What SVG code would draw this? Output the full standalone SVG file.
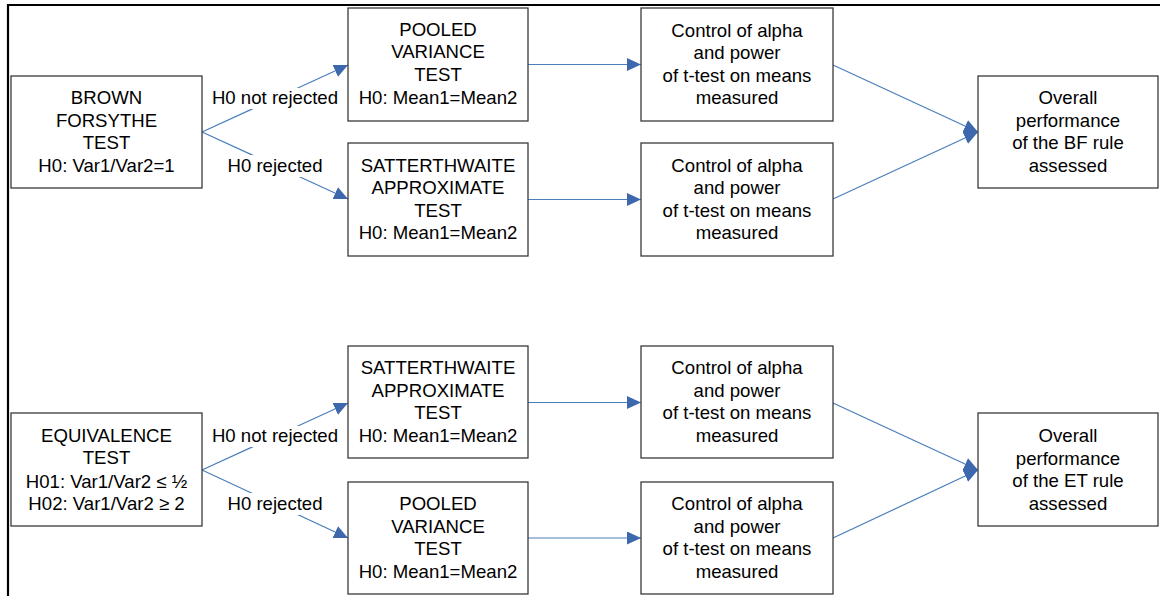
<svg xmlns="http://www.w3.org/2000/svg" width="1160" height="596" viewBox="0 0 1160 596">
<style>
text{font-family:"Liberation Sans",Arial,sans-serif;font-size:18.6px;fill:#000;text-anchor:middle}
.box{fill:#fff;stroke:#3a3a3a;stroke-width:1.3}
.con{fill:none;stroke:#4A7EBB;stroke-width:1.2}
.lbg{fill:#fff}
</style>
<defs>
<marker id="ah" markerUnits="userSpaceOnUse" markerWidth="15" markerHeight="14" refX="14" refY="6.5" orient="auto">
<path d="M0,0 L14,6.5 L0,13 z" fill="#3D68AD"/>
</marker>
</defs>
<rect width="1160" height="596" fill="#fff"/>
<path d="M8,596 V5 H1160" fill="none" stroke="#000" stroke-width="2.2"/>

<g id="connectors">
<line class="con" x1="202" y1="132" x2="348" y2="65" marker-end="url(#ah)"/>
<line class="con" x1="202" y1="132" x2="348" y2="199" marker-end="url(#ah)"/>
<line class="con" x1="528" y1="64.5" x2="641" y2="64.5" marker-end="url(#ah)"/>
<line class="con" x1="528" y1="199.5" x2="641" y2="199.5" marker-end="url(#ah)"/>
<line class="con" x1="833" y1="65" x2="978" y2="132" marker-end="url(#ah)"/>
<line class="con" x1="833" y1="199" x2="978" y2="132" marker-end="url(#ah)"/>
<line class="con" x1="202" y1="470" x2="348" y2="403" marker-end="url(#ah)"/>
<line class="con" x1="202" y1="470" x2="348" y2="538" marker-end="url(#ah)"/>
<line class="con" x1="528" y1="402.5" x2="641" y2="402.5" marker-end="url(#ah)"/>
<line class="con" x1="528" y1="538" x2="641" y2="538" marker-end="url(#ah)"/>
<line class="con" x1="833" y1="403" x2="978" y2="470" marker-end="url(#ah)"/>
<line class="con" x1="833" y1="538" x2="978" y2="470" marker-end="url(#ah)"/>
<g id="labels">
<rect class="lbg" x="209" y="88" width="132" height="21"/>
<text x="275" y="103.5">H0 not rejected</text>
<rect class="lbg" x="228" y="155" width="95" height="22"/>
<text x="275" y="171.5">H0 rejected</text>
<rect class="lbg" x="209" y="426" width="132" height="21"/>
<text x="275" y="442">H0 not rejected</text>
<rect class="lbg" x="228" y="493" width="95" height="22"/>
<text x="275" y="509.5">H0 rejected</text>
</g>
</g>

<g id="bf">
<rect class="box" x="11" y="76" width="191" height="112"/>
<text x="106.5" y="104">BROWN</text>
<text x="106.5" y="126.5">FORSYTHE</text>
<text x="106.5" y="149">TEST</text>
<text x="106.5" y="171.5">H0: Var1/Var2=1</text>
</g>
<g id="pooled1">
<rect class="box" x="348" y="8" width="180" height="113"/>
<text x="438" y="35.5">POOLED</text>
<text x="438" y="58">VARIANCE</text>
<text x="438" y="80.5">TEST</text>
<text x="438" y="103.5">H0: Mean1=Mean2</text>
</g>
<g id="satt1">
<rect class="box" x="348" y="143" width="180" height="113"/>
<text x="438" y="171.5">SATTERTHWAITE</text>
<text x="438" y="194">APPROXIMATE</text>
<text x="438" y="216.5">TEST</text>
<text x="438" y="239">H0: Mean1=Mean2</text>
</g>
<g id="ctrl1">
<rect class="box" x="641" y="8" width="192" height="113"/>
<text x="737" y="36.5">Control of alpha</text>
<text x="737" y="59">and power</text>
<text x="737" y="81.5">of t-test on means</text>
<text x="737" y="104">measured</text>
</g>
<g id="ctrl2">
<rect class="box" x="641" y="143" width="192" height="113"/>
<text x="737" y="171.5">Control of alpha</text>
<text x="737" y="194">and power</text>
<text x="737" y="216.5">of t-test on means</text>
<text x="737" y="239">measured</text>
</g>
<g id="overall1">
<rect class="box" x="978" y="76" width="180" height="112"/>
<text x="1068" y="104">Overall</text>
<text x="1068" y="126.5">performance</text>
<text x="1068" y="149">of the BF rule</text>
<text x="1068" y="171.5">assessed</text>
</g>

<g id="et">
<rect class="box" x="11" y="413" width="191" height="113"/>
<text x="106.5" y="442">EQUIVALENCE</text>
<text x="106.5" y="464">TEST</text>
<text x="106.5" y="487.5">H01: Var1/Var2 ≤ ½</text>
<text x="106.5" y="510">H02: Var1/Var2 ≥ 2</text>
</g>
<g id="satt2">
<rect class="box" x="348" y="346" width="180" height="112"/>
<text x="438" y="374">SATTERTHWAITE</text>
<text x="438" y="396.5">APPROXIMATE</text>
<text x="438" y="419">TEST</text>
<text x="438" y="441.5">H0: Mean1=Mean2</text>
</g>
<g id="pooled2">
<rect class="box" x="348" y="482" width="180" height="112"/>
<text x="438" y="510">POOLED</text>
<text x="438" y="532.5">VARIANCE</text>
<text x="438" y="555">TEST</text>
<text x="438" y="577.5">H0: Mean1=Mean2</text>
</g>
<g id="ctrl3">
<rect class="box" x="641" y="346" width="192" height="112"/>
<text x="737" y="374">Control of alpha</text>
<text x="737" y="396.5">and power</text>
<text x="737" y="419">of t-test on means</text>
<text x="737" y="441.5">measured</text>
</g>
<g id="ctrl4">
<rect class="box" x="641" y="482" width="192" height="112"/>
<text x="737" y="510">Control of alpha</text>
<text x="737" y="532.5">and power</text>
<text x="737" y="555">of t-test on means</text>
<text x="737" y="577.5">measured</text>
</g>
<g id="overall2">
<rect class="box" x="978" y="413" width="180" height="113"/>
<text x="1068" y="442">Overall</text>
<text x="1068" y="464.5">performance</text>
<text x="1068" y="487">of the ET rule</text>
<text x="1068" y="509.5">assessed</text>
</g>
</svg>
